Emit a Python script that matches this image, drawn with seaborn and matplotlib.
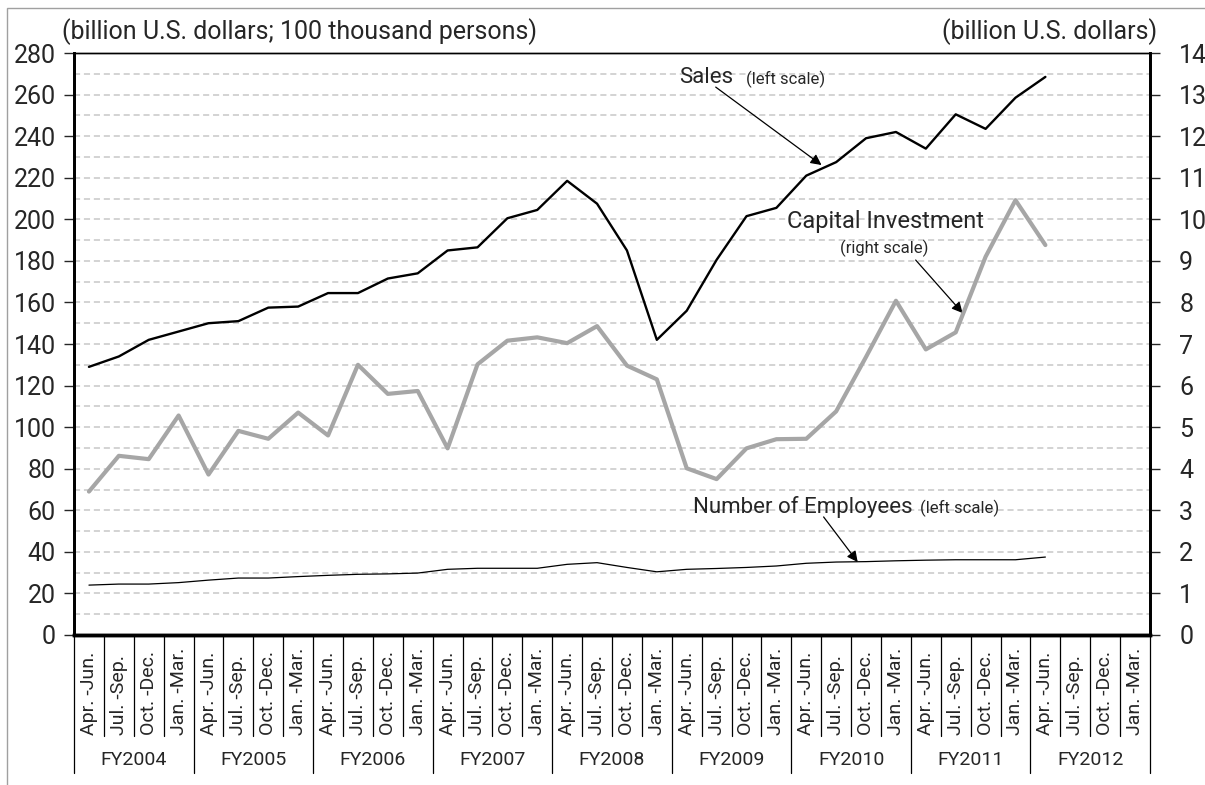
import numpy as np
import pandas as pd
import matplotlib
matplotlib.use("Agg")
import matplotlib.pyplot as plt
import matplotlib.patches as patches
import seaborn as sns

# quarters and fiscal years on the x axis
quarters = ["Apr. -Jun.", "Jul. -Sep.", "Oct. -Dec.", "Jan. -Mar."]
years = ["FY2004", "FY2005", "FY2006", "FY2007", "FY2008",
         "FY2009", "FY2010", "FY2011", "FY2012"]

# values (33 quarters, FY2004 Q1 .. FY2012 Q1)
sales = [129, 134, 142, 146, 150, 151, 157.5, 158, 164.5, 164.5, 171.5, 174,
         185, 186.5, 200.5, 204.5, 218.5, 207.5, 185, 142, 156, 180.5,
         201.5, 205.5, 221, 227.5, 239, 242, 234, 250.5, 243.5, 258.5, 268.5]
capital = [3.45, 4.31, 4.23, 5.28, 3.86, 4.91, 4.72, 5.35, 4.80, 6.50, 5.80,
           5.87, 4.49, 6.51, 7.08, 7.16, 7.02, 7.43, 6.48, 6.15, 4.01, 3.75,
           4.49, 4.71, 4.72, 5.38, 6.69, 8.04, 6.87, 7.28, 9.10, 10.46, 9.38]
employees = [24.0, 24.5, 24.5, 25.2, 26.4, 27.4, 27.4, 28.1, 28.7, 29.2, 29.4,
             29.8, 31.6, 32.1, 32.1, 32.1, 34.0, 34.8, 32.5, 30.4, 31.6, 32.0,
             32.5, 33.2, 34.5, 35.1, 35.3, 35.7, 36.0, 36.2, 36.2, 36.2, 37.5]

df = pd.DataFrame({"idx": np.arange(len(sales)), "sales": sales,
                   "capital": capital, "employees": employees})
n_cat = len(years) * len(quarters)

sns.set_style("white")
plt.rcParams["font.family"] = ["Roboto", "DejaVu Sans"]

W, H = 1205, 785
fig = plt.figure(figsize=(W / 100, H / 100), dpi=100)
ax = fig.add_axes([74 / W, 1 - 635 / H, (1150 - 74) / W, (635 - 53) / H])
ax2 = ax.twinx()

# lines
sns.lineplot(data=df, x="idx", y="sales", ax=ax, color="black", lw=1.7)
sns.lineplot(data=df, x="idx", y="employees", ax=ax, color="black", lw=0.9)
sns.lineplot(data=df, x="idx", y="capital", ax=ax2, color="#a6a6a6", lw=3.0)

ax.set_xlim(-0.5, n_cat - 0.5)
ax.set_ylim(0, 280)
ax2.set_ylim(0, 14)
ax.set_xlabel("")
ax.set_ylabel("")
ax2.set_ylabel("")
ax.set_xticks([])
ax2.set_xticks([])

# y ticks and dashed gridlines
ax.set_yticks(np.arange(0, 281, 20))
ax.set_yticks(np.arange(10, 280, 20), minor=True)
ax.grid(which="both", axis="y", color="#c8c8c8", lw=1.1, ls=(0, (4, 2.5)))
ax.set_axisbelow(True)
ax.tick_params(axis="y", which="major", direction="out", length=7, width=1,
               labelsize=18, pad=6, left=True)
ax.tick_params(axis="y", which="minor", length=0)
ax2.set_yticks(np.arange(0, 15, 1))
ax2.tick_params(axis="y", direction="out", length=7, width=1,
                labelsize=18, pad=14, right=True)

for a in (ax, ax2):
    a.spines["left"].set_linewidth(2)
    a.spines["right"].set_linewidth(2)
    a.spines["bottom"].set_linewidth(2.5)
    a.spines["top"].set_linewidth(1)
    for s in a.spines.values():
        s.set_color("black")

# category axis drawn by hand
tr = ax.get_xaxis_transform()
short_y = -(736 - 635) / 582
long_y = -(773 - 635) / 582
for k in range(n_cat + 1):
    y_end = long_y if k % 4 == 0 else short_y
    ax.plot([k - 0.5, k - 0.5], [0, y_end], transform=tr, color="black",
            lw=0.9, clip_on=False)
for k in range(n_cat):
    ax.text(k, -(735 - 635) / 582, quarters[k % 4], transform=tr,
            rotation=90, ha="center", va="bottom", fontsize=14)
for j, yr in enumerate(years):
    ax.text(j * 4 + 1.5, -(760 - 635) / 582, yr, transform=tr,
            ha="center", va="center", fontsize=14)

# unit captions
fig.text(62 / W, 1 - 32 / H, "(billion U.S. dollars; 100 thousand persons)",
         ha="left", va="center", fontsize=18)
fig.text(1157 / W, 1 - 32 / H, "(billion U.S. dollars)",
         ha="right", va="center", fontsize=18)

# series labels with arrows (left-scale data coords)
arrow = dict(arrowstyle="-|>", color="black", lw=0.9, mutation_scale=16,
             shrinkA=0, shrinkB=0)
ax.text(19.73, 268.4, "Sales", fontsize=16, va="center", ha="left")
ax.text(22.0, 267.4, "(left scale)", fontsize=12, va="center", ha="left")
ax.annotate("", xy=(24.51, 226.1), xytext=(20.97, 263.6), arrowprops=arrow)

ax.text(26.64, 198.7, "Capital Investment", fontsize=17, va="center", ha="center")
ax.text(26.62, 186.1, "(right scale)", fontsize=12, va="center", ha="center")
ax.annotate("", xy=(29.23, 154.9), xytext=(27.66, 180.4), arrowprops=arrow)

ax.text(20.2, 61.6, "Number of Employees", fontsize=16, va="center", ha="left")
ax.text(27.8, 61.0, "(left scale)", fontsize=12, va="center", ha="left")
ax.annotate("", xy=(25.72, 35.1), xytext=(24.58, 56.8), arrowprops=arrow)

# outer frame
fig.add_artist(patches.Rectangle((7 / W, -0.1), 1.2, 1 - 8 / H + 0.1,
                                 transform=fig.transFigure, fill=False,
                                 edgecolor="#a0a0a0", lw=1))

fig.savefig("out.png", dpi=100)
